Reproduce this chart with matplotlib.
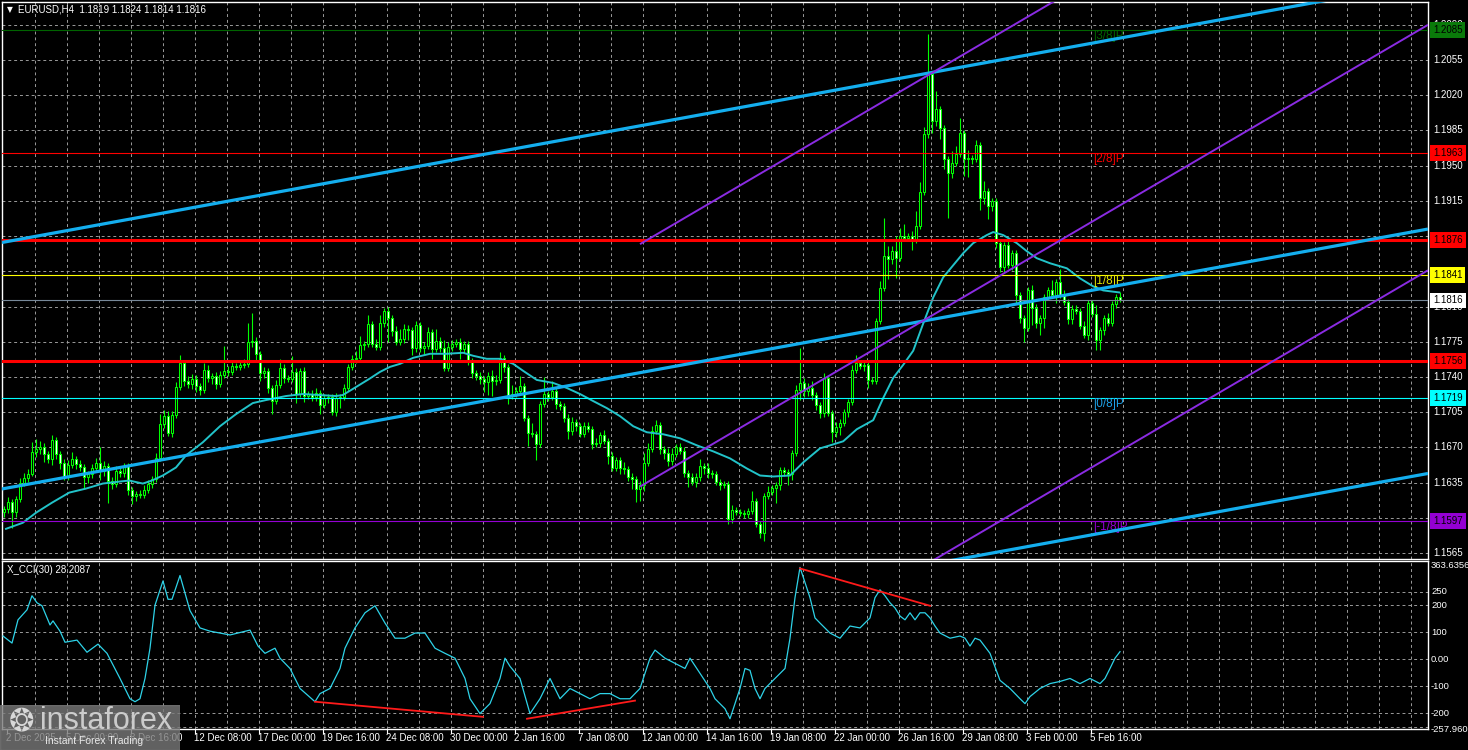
import numpy as np
import matplotlib.pyplot as plt
from matplotlib.transforms import blended_transform_factory

# ---------------- data ----------------
first_open = 1.1606
close = [
    1.1609, 1.1616, 1.1606, 1.1619, 1.1635, 1.1640, 1.1643, 1.1665, 1.1668, 1.1670,
    1.1663, 1.1658, 1.1677, 1.1663, 1.1654, 1.1641, 1.1652, 1.1658, 1.1653, 1.1650,
    1.1641, 1.1643, 1.1649, 1.1654, 1.1646, 1.1651, 1.1637, 1.1634, 1.1646, 1.1644,
    1.1651, 1.1628, 1.1622, 1.1624, 1.1623, 1.1628, 1.1634, 1.1639, 1.1659, 1.1693,
    1.1701, 1.1684, 1.1702, 1.1730, 1.1754, 1.1736, 1.1733, 1.1738, 1.1731, 1.1727,
    1.1747, 1.1739, 1.1741, 1.1733, 1.1742, 1.1746, 1.1745, 1.1751, 1.1750, 1.1752,
    1.1753, 1.1775, 1.1776, 1.1763, 1.1744, 1.1746, 1.1729, 1.1716, 1.1732, 1.1749,
    1.1739, 1.1738, 1.1745, 1.1723, 1.1746, 1.1721, 1.1723, 1.1720, 1.1724, 1.1712,
    1.1719, 1.1720, 1.1705, 1.1719, 1.1720, 1.1729, 1.1750, 1.1758, 1.1759, 1.1772,
    1.1773, 1.1793, 1.1773, 1.1770, 1.1794, 1.1806, 1.1799, 1.1786, 1.1775, 1.1778,
    1.1788, 1.1787, 1.1769, 1.1792, 1.1769, 1.1771, 1.1785, 1.1768, 1.1776, 1.1769,
    1.1749, 1.1770, 1.1773, 1.1775, 1.1768, 1.1773, 1.1756, 1.1744, 1.1741, 1.1738,
    1.1735, 1.1741, 1.1736, 1.1737, 1.1759, 1.1750, 1.1721, 1.1723, 1.1726, 1.1731,
    1.1699, 1.1684, 1.1683, 1.1673, 1.1713, 1.1723, 1.1720, 1.1726, 1.1713, 1.1711,
    1.1699, 1.1686, 1.1695, 1.1691, 1.1683, 1.1691, 1.1688, 1.1673, 1.1674, 1.1682,
    1.1676, 1.1661, 1.1649, 1.1657, 1.1649, 1.1648, 1.1641, 1.1639, 1.1629, 1.1633,
    1.1654, 1.1668, 1.1686, 1.1692, 1.1668, 1.1664, 1.1656, 1.1663, 1.1670, 1.1666,
    1.1644, 1.1641, 1.1636, 1.1641, 1.1651, 1.1649, 1.1644, 1.1643, 1.1636, 1.1633,
    1.1634, 1.1599, 1.1608, 1.1606, 1.1605, 1.1604, 1.1607, 1.1617, 1.1594, 1.1585,
    1.1622, 1.1626, 1.1630, 1.1633, 1.1647, 1.1645, 1.1643, 1.1664, 1.1727, 1.1734,
    1.1726, 1.1729, 1.1722, 1.1712, 1.1704, 1.1739, 1.1704, 1.1685, 1.1690, 1.1694,
    1.1705, 1.1715, 1.1747, 1.1754, 1.1751, 1.1752, 1.1737, 1.1736, 1.1796, 1.1828,
    1.1860, 1.1857, 1.1865, 1.1858, 1.1880, 1.1878, 1.1880, 1.1876, 1.1890, 1.1924,
    1.1981, 1.2041, 1.1994, 1.2006, 1.1987, 1.1957, 1.1943, 1.1953, 1.1962, 1.1982,
    1.1957, 1.1958, 1.1957, 1.1971, 1.1918, 1.1925, 1.1910, 1.1915, 1.1873, 1.1849,
    1.1871, 1.1851, 1.1863, 1.1821, 1.1799, 1.1789, 1.1826, 1.1809, 1.1794, 1.1799,
    1.1819, 1.1826, 1.1821, 1.1834, 1.1821, 1.1814, 1.1798, 1.1808, 1.1806, 1.1791,
    1.1782, 1.1813, 1.1803, 1.1777, 1.1787, 1.1799, 1.1794, 1.1812, 1.1819, 1.1816,
]
# wick lengths above / below the body, in pips
up_wick = [
    3, 5, 3, 3, 5, 4, 5, 10, 10, 6,
    4, 3, 5, 3, 3, 4, 5, 7, 3, 4,
    3, 3, 4, 5, 16, 5, 3, 4, 5, 4,
    3, 3, 3, 3, 4, 5, 4, 3, 5, 10,
    6, 5, 4, 5, 8, 3, 5, 5, 4, 3,
    7, 5, 3, 4, 4, 25, 5, 4, 3, 4,
    5, 19, 28, 4, 3, 4, 3, 3, 5, 9,
    4, 3, 16, 4, 3, 4, 3, 4, 5, 3,
    4, 3, 3, 5, 3, 4, 3, 4, 7, 9,
    3, 9, 3, 5, 8, 3, 4, 3, 5, 10,
    5, 4, 3, 4, 3, 4, 5, 3, 12, 4,
    8, 5, 4, 3, 4, 3, 3, 3, 3, 4,
    3, 4, 6, 5, 6, 3, 3, 9, 4, 10,
    3, 3, 10, 3, 3, 17, 3, 10, 3, 3,
    3, 4, 5, 3, 3, 4, 4, 3, 5, 3,
    5, 3, 4, 3, 3, 6, 3, 3, 3, 4,
    10, 6, 5, 5, 3, 3, 5, 6, 3, 4,
    4, 3, 3, 3, 7, 3, 5, 3, 3, 3,
    3, 3, 5, 3, 3, 3, 3, 10, 3, 3,
    3, 6, 3, 3, 3, 3, 3, 3, 5, 35,
    5, 5, 7, 3, 3, 5, 3, 3, 5, 4,
    3, 3, 5, 8, 3, 3, 3, 3, 3, 7,
    38, 10, 5, 15, 8, 12, 3, 5, 15, 10,
    7, 40, 3, 18, 3, 3, 3, 12, 8, 15,
    3, 8, 3, 5, 3, 10, 3, 3, 3, 3,
    3, 5, 3, 3, 3, 3, 3, 5, 3, 3,
    3, 3, 10, 3, 13, 5, 3, 3, 3, 3,
    5, 3, 3, 8, 3, 3, 5, 3, 3, 5,
]
dn_wick = [
    5, 4, 16, 5, 3, 3, 4, 1, 5, 5,
    8, 4, 6, 5, 6, 3, 3, 3, 5, 4,
    12, 6, 3, 3, 8, 4, 22, 5, 3, 3,
    3, 5, 8, 5, 3, 3, 3, 4, 3, 3,
    4, 3, 4, 3, 3, 5, 4, 5, 6, 5,
    3, 4, 6, 5, 3, 3, 4, 3, 3, 3,
    3, 3, 5, 6, 8, 5, 5, 13, 3, 3,
    5, 3, 3, 9, 3, 6, 3, 4, 4, 9,
    3, 5, 3, 4, 10, 3, 3, 3, 4, 3,
    5, 3, 3, 3, 3, 4, 24, 5, 3, 3,
    4, 10, 7, 4, 4, 6, 3, 10, 3, 4,
    3, 3, 4, 3, 10, 4, 4, 5, 4, 5,
    10, 13, 15, 4, 3, 5, 8, 3, 3, 3,
    3, 13, 3, 16, 3, 3, 4, 3, 5, 4,
    4, 8, 4, 5, 3, 3, 3, 5, 3, 4,
    3, 8, 3, 3, 6, 5, 4, 10, 13, 12,
    6, 3, 3, 3, 5, 6, 5, 4, 3, 3,
    3, 10, 3, 5, 4, 6, 4, 3, 3, 5,
    3, 5, 4, 3, 3, 4, 4, 3, 3, 5,
    8, 3, 3, 15, 5, 3, 10, 5, 3, 10,
    6, 5, 5, 5, 5, 4, 3, 10, 5, 8,
    3, 5, 3, 3, 3, 5, 8, 3, 3, 3,
    3, 20, 5, 20, 3, 3, 3, 10, 3, 3,
    3, 3, 12, 5, 10, 10, 45, 5, 3, 3,
    17, 18, 5, 3, 12, 6, 13, 5, 5, 5,
    5, 3, 5, 8, 5, 14, 3, 17, 5, 12,
    10, 3, 3, 8, 3, 3, 5, 5, 3, 3,
    3, 5, 3, 10, 10, 5, 3, 3, 3, 2,
]

# moving average (bar position, price)
ma_bar = [0.5, 4.7, 8, 12, 16.3, 20.5, 24.7, 29, 31.3, 34.7, 37, 39.7, 43, 45.5, 49.7,
          54, 58, 62.2, 65.5, 70.5, 74.7, 78.8, 83, 84.7, 87.2, 91.3, 94, 96.5, 99,
          102.3, 106.5, 110.7, 114.8, 117.3, 120.7, 124, 127.3, 129.8, 133.2, 137.3,
          140.7, 144, 147.3, 150.7, 154, 157.3, 160.7, 164.8, 169, 173.2, 177.3, 181.5,
          185.7, 189, 192.3, 196.5, 199.8, 204, 205.7, 209.8, 213.2, 217.3, 219.8,
          222.3, 224.8, 227.3, 229.8, 232.3, 234.8, 237.3, 239.8, 242.3, 245.7, 247.3,
          249.8, 253.2, 255.7, 258.2, 261.5, 265.7, 269, 272.3, 274.8, 278.8]
ma_val = [1.1589, 1.1595, 1.1605, 1.1615, 1.1625, 1.1629, 1.1634, 1.1636, 1.1637, 1.1634,
          1.1637, 1.1642, 1.1650, 1.1662, 1.1675, 1.1691, 1.1703, 1.1714, 1.1717, 1.1721,
          1.1723, 1.1722, 1.1721, 1.1722, 1.1728, 1.1738, 1.1745, 1.1750, 1.1753, 1.1759,
          1.1763, 1.1763, 1.1764, 1.1761, 1.1758, 1.1758, 1.1753, 1.1746, 1.1737, 1.1734,
          1.1729, 1.1723, 1.1716, 1.1709, 1.1701, 1.1691, 1.1685, 1.1683, 1.1679, 1.1672,
          1.1666, 1.1659, 1.1649, 1.1642, 1.1641, 1.1642, 1.1655, 1.1669, 1.1671, 1.1676,
          1.1688, 1.1697, 1.1719, 1.1739, 1.1752, 1.1766, 1.1793, 1.1819, 1.1839, 1.1851,
          1.1863, 1.1873, 1.1881, 1.1884, 1.1881, 1.1873, 1.1865, 1.1858, 1.1853, 1.1848,
          1.1838, 1.1830, 1.1826, 1.1824]

# CCI(30) (bar position, value)
cci_bar = [-0.25, 2, 3.5, 5.75, 7, 8.25, 9.5, 11.5, 12.25, 14, 15.25, 18.25, 20.75, 23.5,
           25.75, 29, 31.5, 32.75, 34, 35.25, 36.5, 37.75, 39.75, 41, 42, 44, 46.5, 49,
           51.5, 56.5, 61.5, 63.5, 65.25, 67.75, 69, 71.5, 74, 77.75, 79, 81.5, 84, 85.25,
           87.75, 90.25, 92.75, 95.25, 97.75, 100.25, 102.75, 105.25, 107.75, 110.25,
           112.75, 115.25, 116.5, 119, 121.5, 124, 125.25, 126.5, 129, 131.5, 134, 136.5,
           139, 141.5, 144, 146.5, 149, 151.5, 154, 156.5, 159, 161.5, 162.75, 165.25,
           167.75, 170.25, 171.5, 174, 176.5, 177.75, 180.25, 181.5, 182.75, 184, 185.25,
           186.5, 187.75, 189, 190.25, 192.75, 195.25, 196.5, 197.75, 199, 200.25, 201.5,
           202.75, 204, 206.5, 209, 211.5, 214, 216.5, 217.75, 219, 220.25, 221.5, 222.75,
           224, 225.25, 226.5, 227.75, 229, 230.25, 231.5, 232.75, 234, 236.5, 239, 240.25,
           241.5, 242.75, 244, 246.5, 249, 251.5, 254, 255.25, 256.5, 259, 261.5, 264,
           266.5, 269, 271.5, 274, 275.25, 276.5, 277.75, 279]
cci_val = [86, 60, 146, 183, 235, 209, 198, 127, 142, 104, 63, 71, 26, 56,
           22, -71, -146, -157, -146, -71, 41, 200, 290, 222, 222, 310, 180, 116,
           104, 90, 108, 49, 22, 41, 4, -34, -108, -157, -127, -108, -34, 41,
           116, 172, 198, 134, 78, 78, 97, 97, 41, 22,
           4, -71, -146, -201, -164, -71, 4, -26, -71, -201, -146, -71,
           -146, -108, -127, -146, -127, -127, -146, -146, -108, 4, 34, 4,
           -15, -34, 4, -52, -108, -146, -183, -220, -164, -108, -34,
           -41, -108, -146, -108, -71, -34, 78, 228, 340, 284, 228,
           153, 134, 97, 78, 123, 116, 153, 228, 257, 235, 209, 190,
           160, 146, 172, 146, 172, 172, 153, 123, 97, 78, 86, 78,
           49, 78, 71, 22, -78, -108, -146, -164, -138, -108, -90, -82,
           -71, -90, -71, -90, -71, -34, 4, 28.2087]

# drawn objects
levels = [1.2085, 1.1963, 1.1876, 1.1841, 1.1816, 1.1756, 1.1719, 1.1597]
level_colors = ['#006400', '#FF0000', '#FF0000', '#FFFF00', '#778899', '#FF0000', '#00FFFF', '#9400D3']
level_widths = [0.8, 0.8, 2.2, 0.8, 0.8, 2.2, 0.8, 0.8]
box_colors = ['#0A7A0A', '#FF0000', '#FF0000', '#FFFF00', '#FFFFFF', '#FF0000', '#00FFFF', '#9400D3']
mm_text = ['[3/8]P', '[2/8]P', '[1/8]P', '[0/8]P', '[-1/8]P']
mm_price = [1.2085, 1.1963, 1.1841, 1.1719, 1.1597]
mm_colors = ['#006400', '#FF0000', '#E6E600', '#1EA0E6', '#9400D3']

blue_lines = [((0, 1.1874), (326, 1.2111)),
              ((0, 1.1629), (356, 1.1887)),
              ((232, 1.1554), (356, 1.1644))]
purple_lines = [((159, 1.1872), (261.5, 1.2111)),
                ((159, 1.1631), (356, 1.2090)),
                ((232, 1.1557), (356, 1.1846))]
cci_red = [((77.75, -157), (119.75, -213)),
           ((130.75, -220), (157.75, -153)),
           ((199, 336), (231.5, 198))]

# 1.1880, 1.1845 and 1.1600 sit fully under the level boxes, so they are not shown
price_ticks = [1.2090, 1.2055, 1.2020, 1.1985, 1.1950, 1.1915, 1.1810,
               1.1775, 1.1740, 1.1705, 1.1670, 1.1635, 1.1565]
price_tick_labels = ['1.2090', '1.2055', '1.2020', '1.1985', '1.1950', '1.1915',
                     '1.1810', '1.1775', '1.1740', '1.1705', '1.1670', '1.1635', '1.1565']
price_grid = [1.2090, 1.2055, 1.2020, 1.1985, 1.1950, 1.1915, 1.1880, 1.1845, 1.1810,
              1.1775, 1.1740, 1.1705, 1.1670, 1.1635, 1.1600, 1.1565]
cci_levels = [250, 200, 100, 0, -100, -200, -250]
cci_labels = ['363.6356', '250', '200', '100', '0.00', '-100', '-200', '-257.960']
cci_label_vals = [363.6356, 250, 200, 100, 0, -100, -200, -257.96]

time_bars = [0, 15, 31, 47, 63, 79, 95, 111, 127, 143, 159, 175, 191, 207, 223, 239, 255, 271]
time_text = ['2 Dec 2025', '5 Dec 00:00', '8 Dec 16:00', '12 Dec 08:00', '17 Dec 00:00',
             '19 Dec 16:00', '24 Dec 08:00', '30 Dec 00:00', '2 Jan 16:00', '7 Jan 08:00',
             '12 Jan 00:00', '14 Jan 16:00', '19 Jan 08:00', '22 Jan 00:00', '26 Jan 16:00',
             '29 Jan 08:00', '3 Feb 00:00', '5 Feb 16:00']

# ---------------- figure ----------------
W, H = 1468, 750
plt.rcParams['font.family'] = ['Liberation Sans', 'DejaVu Sans']
fig = plt.figure(figsize=(W / 100, H / 100), dpi=100, facecolor='black')

def box(l, t, r, b):
    return [l / W, 1 - b / H, (r - l) / W, (b - t) / H]

ax = fig.add_axes(box(2, 2, 1428, 559), facecolor='black')
axc = fig.add_axes(box(2, 561, 1428, 729), facecolor='black')

XMIN, XMAX = -0.5, 356
ax.set_xlim(XMIN, XMAX)
ax.set_ylim(1.1559, 1.21127)
axc.set_xlim(XMIN, XMAX)
axc.set_ylim(-257.96, 363.6356)

grid_kw = dict(color='#9A9A9A', lw=0.7, ls=(0, (3, 3)), zorder=0)
vgrid = [7.75 + 8 * k for k in range(44)]
for a in (ax, axc):
    for s in a.spines.values():
        s.set_color('white')
        s.set_linewidth(1)
    a.set_xticks([])
    a.set_yticks([])
    for v in vgrid:
        a.axvline(v, **grid_kw)
for p in price_grid:
    ax.axhline(p, **grid_kw)
for v in cci_levels:
    axc.axhline(v, **grid_kw)

# candles
pip = 0.0001
x = np.arange(len(close))
c = np.array(close)
o = np.array([first_open] + close[:-1])
hi = np.maximum(o, c) + np.array(up_wick) * pip
lo = np.minimum(o, c) - np.array(dn_wick) * pip
ax.vlines(x, lo, hi, color='#00FF00', lw=0.8, zorder=2)
bull = c >= o
ax.bar(x[bull], (c - o)[bull], bottom=o[bull], width=0.55, color='black',
       edgecolor='#00FF00', lw=0.75, zorder=3)
ax.bar(x[~bull], (o - c)[~bull], bottom=c[~bull], width=0.55, color='white',
       edgecolor='#00FF00', lw=0.75, zorder=3)

ax.plot(ma_bar, ma_val, color='#22C3C9', lw=1.4, zorder=4)

# horizontal levels
for p, col, lw in zip(levels, level_colors, level_widths):
    ax.axhline(p, color=col, lw=lw, zorder=5)
for t, p, col in zip(mm_text, mm_price, mm_colors):
    ax.text(272.3, p, t, color=col, fontsize=8.5, va='top', ha='left', zorder=6)

def draw_ray(a, p0, p1, x0, x1, **kw):
    k = (p1[1] - p0[1]) / (p1[0] - p0[0])
    a.plot([x0, x1], [p0[1] + k * (x0 - p0[0]), p0[1] + k * (x1 - p0[0])], **kw)

for p0, p1 in blue_lines:
    draw_ray(ax, p0, p1, XMIN, XMAX, color='#14AEEE', lw=2.3, zorder=6,
             solid_capstyle='butt')
for p0, p1 in purple_lines:
    draw_ray(ax, p0, p1, 159, XMAX, color='#8A2BE2', lw=1.4, zorder=6,
             solid_capstyle='butt')

# CCI
axc.plot(cci_bar, cci_val, color='#2ED3E8', lw=0.9, zorder=3)
for p0, p1 in cci_red:
    axc.plot([p0[0], p1[0]], [p0[1], p1[1]], color='#FF1A1A', lw=1.3, zorder=4)

# right axis labels
tr = blended_transform_factory(ax.transAxes, ax.transData)
xr = (1433 - 2) / 1426
for p, s in zip(price_ticks, price_tick_labels):
    ax.text(xr, p, s, transform=tr, color='white', fontsize=7, va='center',
            ha='left', clip_on=False, zorder=1)
for p, bc in zip(levels, box_colors):
    ax.text(xr, p, f'{p:.4f}', transform=tr, color='black', fontsize=7, va='center',
            ha='left', clip_on=False, zorder=10,
            bbox=dict(boxstyle='square,pad=0.3', fc=bc, ec='none'))
trc = blended_transform_factory(axc.transAxes, axc.transData)
for v, s in zip(cci_label_vals, cci_labels):
    va = 'top' if v > 300 else 'center'
    axc.text((1431 - 2) / 1426, v, s, transform=trc, color='white', fontsize=6.8,
             va=va, ha='left', clip_on=False)

# time axis
trt = blended_transform_factory(axc.transData, axc.transAxes)
for b, s in zip(time_bars, time_text):
    axc.text(b + 0.6, -9 / 168, s, transform=trt, color='white', fontsize=7,
             va='center', ha='left', clip_on=False)
    axc.plot([b + 0.75, b + 0.75], [0, -4 / 168], transform=trt, color='white',
             lw=0.8, clip_on=False)

# header texts
fig.text(7 / W, 1 - 10 / H, '\u25bc', color='white', fontsize=5.5, va='center',
         family='DejaVu Sans')
fig.text(18 / W, 1 - 10 / H, 'EURUSD,H4  1.1819 1.1824 1.1814 1.1816', color='white',
         fontsize=7, va='center')
fig.text(7 / W, 1 - 570 / H, 'X_CCI(30) 28.2087', color='white', fontsize=7,
         va='center')

# watermark
wm = fig.add_axes(box(0, 705, 180, 750))
wm.axis('off')
wm.add_patch(plt.Rectangle((0, 0), 1, 1, transform=wm.transAxes, color='#7A7A7A',
                           alpha=0.8))
fig.text(40 / W, 1 - 721 / H, 'instaforex', color='#D8D8D8', fontsize=22,
         va='center', ha='left', alpha=0.9)
fig.text(45 / W, 1 - 741 / H, 'Instant Forex Trading', color='#E8E8E8', fontsize=7.5,
         va='center', ha='left')
fig.text(21 / W, 1 - 722 / H, '\u2742', color='#D8D8D8', fontsize=22, va='center',
         ha='center', family='DejaVu Sans')

fig.savefig('out.png', dpi=100, facecolor='black')
